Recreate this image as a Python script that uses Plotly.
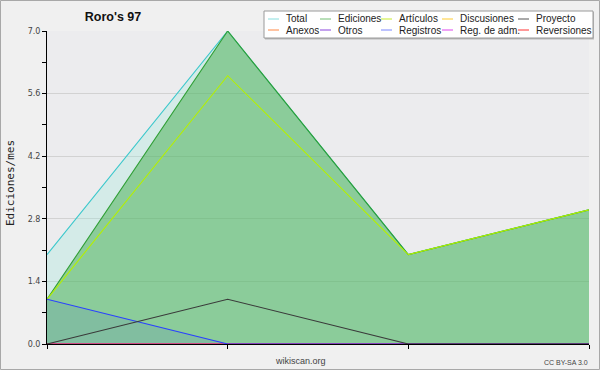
import plotly.graph_objects as go

# ---------------- data ----------------
periods = [0, 1, 2, 3]
total = [2, 7, 2, 3]
ediciones = [1, 7, 2, 3]
articulos = [1, 6, 2, 3]
discusiones = [0, 0, 0, 0]
proyecto = [0, 1, 0, 0]
anexos = [0, 0, 0, 0]
otros = [0, 0, 0, 0]
registros = [1, 0, 0, 0]
reg_adm = [0, 0, 0, 0]
reversiones = [0, 0, 0, 0]

y_ticks = [0.0, 1.4, 2.8, 4.2, 5.6, 7.0]
y_tick_labels = ["0.0", "1.4", "2.8", "4.2", "5.6", "7.0"]

legend_rows = [
    ["Total", "Ediciones", "Artículos", "Discusiones", "Proyecto"],
    ["Anexos", "Otros", "Registros", "Reg. de adm.", "Reversiones"],
]
legend_colors = {
    "Total": "#88dede", "Ediciones": "#72be72", "Artículos": "#c8ec30",
    "Discusiones": "#ffcc33", "Proyecto": "#555555", "Anexos": "#ff8844",
    "Otros": "#8a44dd", "Registros": "#7a86ff", "Reg. de adm.": "#dd44ee",
    "Reversiones": "#ff3333",
}

# ---------------- geometry helpers ----------------
W, H = 600, 370
L, R, T, B = 47, 589, 31, 344


def px(x):
    return (x - L) / (R - L)


def py(y):
    return (B - y) / (B - T)


fig = go.Figure()

# filled / line series (drawn in stacking order)
series = [
    ("Total", total, "#3cc8cc", "rgba(150,235,220,0.28)"),
    ("Ediciones", ediciones, "#2f9f35", "rgba(60,170,70,0.48)"),
    ("Artículos", articulos, "#b4f000", None),
    ("Discusiones", discusiones, "#ffcc33", None),
    ("Anexos", anexos, "#ff8844", None),
    ("Otros", otros, "#8a44dd", None),
    ("Reg. de adm.", reg_adm, "#dd44ee", None),
    ("Reversiones", reversiones, "#ff3333", None),
    ("Registros", registros, "#2a40ff", "rgba(60,100,200,0.13)"),
    ("Proyecto", proyecto, "#3a3a3a", None),
]
for name, vals, lc, fc in series:
    kw = {}
    if fc:
        kw = dict(fill="tozeroy", fillcolor=fc)
    fig.add_trace(go.Scatter(
        x=periods, y=vals, name=name, mode="lines",
        line=dict(color=lc, width=1.1), showlegend=False, hoverinfo="skip", **kw))

# ---------------- manual legend ----------------
shapes = []
annotations = []
box_l, box_r, box_t, box_b = 264, 593, 11, 38
shapes.append(dict(type="rect", xref="paper", yref="paper",
                   x0=px(box_l + 1), x1=px(box_r + 1), y0=py(box_b + 1.5), y1=py(box_t + 1),
                   line=dict(width=0), fillcolor="#b8b8b8", layer="above"))
shapes.append(dict(type="rect", xref="paper", yref="paper",
                   x0=px(box_l), x1=px(box_r), y0=py(box_b), y1=py(box_t),
                   line=dict(color="#9a9a9a", width=1), fillcolor="#ffffff", layer="above"))
col_x = [268, 320, 381, 442, 518]
row_y = [19, 30]
for r, row in enumerate(legend_rows):
    for c, name in enumerate(row):
        x0 = col_x[c]
        yy = row_y[r]
        shapes.append(dict(type="line", xref="paper", yref="paper",
                           x0=px(x0), x1=px(x0 + 11), y0=py(yy), y1=py(yy),
                           line=dict(color=legend_colors[name], width=1), layer="above"))
        annotations.append(dict(xref="paper", yref="paper", x=px(x0 + 16), y=py(yy),
                                xanchor="left", yanchor="middle", showarrow=False,
                                text=name, font=dict(family="Liberation Sans", size=10, color="#222")))

# outer border
shapes.append(dict(type="rect", xref="paper", yref="paper",
                   x0=px(0.5), x1=px(W - 0.5), y0=py(H - 0.5), y1=py(0.5),
                   line=dict(color="#a8a8a8", width=1), fillcolor="rgba(0,0,0,0)", layer="above"))

# axis title and footer texts
annotations.append(dict(xref="paper", yref="paper", x=px(10), y=py(183),
                        xanchor="center", yanchor="middle", showarrow=False, textangle=-90,
                        text="Ediciones/mes",
                        font=dict(family="DejaVu Sans Mono", size=11, color="#222")))
annotations.append(dict(xref="paper", yref="paper", x=px(300), y=py(361),
                        xanchor="center", yanchor="middle", showarrow=False,
                        text="wikiscan.org",
                        font=dict(family="Liberation Sans", size=9, color="#444")))
annotations.append(dict(xref="paper", yref="paper", x=px(590), y=py(362),
                        xanchor="right", yanchor="middle", showarrow=False,
                        text="CC BY-SA 3.0",
                        font=dict(family="Liberation Sans", size=7, color="#444")))

fig.update_layout(
    width=W, height=H, autosize=False,
    margin=dict(l=L, r=W - R, t=T, b=H - B, pad=0),
    paper_bgcolor="#f0f0f0",
    plot_bgcolor="#ececee",
    showlegend=False,
    title=dict(text="<b>Roro's 97</b>", x=113 / W, xanchor="center",
               y=1 - 17 / H, yanchor="middle",
               font=dict(family="Liberation Sans", size=12.5, color="#111")),
    xaxis=dict(range=[periods[0], periods[-1]], tickvals=periods, showticklabels=False,
               ticks="outside", ticklen=4, tickcolor="#000", showline=True,
               linecolor="#000", linewidth=1, showgrid=False, zeroline=False, fixedrange=True),
    yaxis=dict(range=[0, 7], tickvals=y_ticks, ticktext=y_tick_labels,
               ticks="outside", ticklen=4, tickcolor="#000", showline=True,
               linecolor="#000", linewidth=1, showgrid=True, gridcolor="#d2d2d2",
               gridwidth=1, zeroline=False, fixedrange=True,
               tickfont=dict(family="DejaVu Sans", size=8, color="#444"),
               minor=dict(dtick=0.7, tick0=0, ticks="outside", ticklen=4, tickcolor="#000",
                          showgrid=False)),
    shapes=shapes,
    annotations=annotations,
)

fig.write_html("out.html", config={"displayModeBar": False},
               post_script="document.body.style.margin='0';")
